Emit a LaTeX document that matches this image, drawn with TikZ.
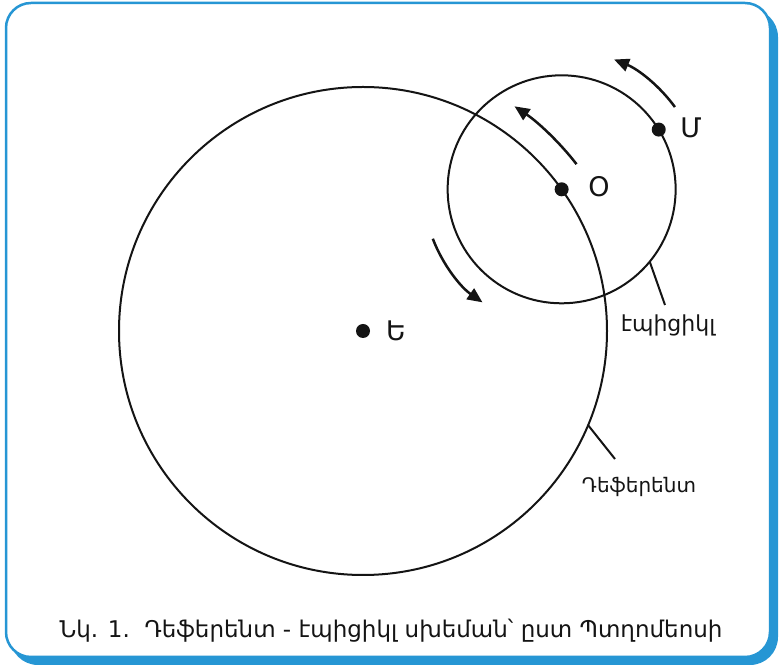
\documentclass[tikz,border=0pt]{standalone}
\usepackage{fontspec}
\setmainfont{DejaVu Sans}
\usetikzlibrary{arrows.meta,calc}
\definecolor{frameblue}{RGB}{38,150,212}
\definecolor{ink}{RGB}{20,20,20}
\tikzset{
  orbit/.style={draw=ink,line width=2pt},
  dot/.style={circle,fill=ink,inner sep=0pt,minimum size=14pt},
  motion/.style={draw=ink,line width=2.5pt,-{Triangle[length=15pt,width=13pt]}},
  leader/.style={draw=ink,line width=2pt},
  letter/.style={text=ink,font=\fontsize{27}{30}\selectfont,inner sep=0pt},
  tag/.style={text=ink,inner sep=0pt},
  caption/.style={text=ink,font=\fontsize{23}{26}\selectfont,inner sep=0pt}
}
\begin{document}
\begin{tikzpicture}[x=1pt,y=1pt]
\useasboundingbox (0,0) rectangle (780,667);
% frame
\fill[frameblue,rounded corners=28pt] (10,2) rectangle (778,658);
\filldraw[fill=white,draw=frameblue,line width=2.5pt,rounded corners=25pt] (6,10) rectangle (770,664);
% centres
\coordinate (Ec) at (363,336);
\coordinate (Oc) at ($(Ec)+(35.5:244)$);
% circles
\draw[orbit] (Ec) circle[radius=244];
\draw[orbit] (Oc) circle[radius=114];
% motion arrows
\draw[motion] ($(Ec)+(38:271)$) arc[start angle=38,end angle=56,radius=271];
\draw[motion] ($(Oc)+(36:140)$) arc[start angle=36,end angle=68,radius=140];
\draw[motion] ($(Oc)+(201:138)$) arc[start angle=201,end angle=235,radius=138];
% points
\node[dot] (E) at (Ec) {};
\node[dot] (O) at (Oc) {};
\node[dot] (M) at ($(Oc)+(31.6:114)$) {};
\node[letter] (Elab) at (396,336) {Ե};
\node[letter] (Olab) at (599,480) {Օ};
\node[letter] (Mlab) at (691,539) {Մ};
% leaders and names
\coordinate (epiA) at ($(Oc)+(-39.4:114)$);
\coordinate (defA) at ($(Ec)+(-22.7:244)$);
\node[tag,font=\fontsize{22}{26}\selectfont] (epi) at (668,342) {էպիցիկլ};
\node[tag,font=\fontsize{20}{24}\selectfont] (def) at (639,180) {Դեֆերենտ};
\draw[leader] (epiA) -- (665,362);
\draw[leader] (defA) -- (615,208);
% caption
\node[caption] (cap) at (391,36) {Նկ. 1.\ \ Դեֆերենտ - էպիցիկլ սխեման՝ ըստ Պտղոմեոսի};
\end{tikzpicture}
\end{document}
